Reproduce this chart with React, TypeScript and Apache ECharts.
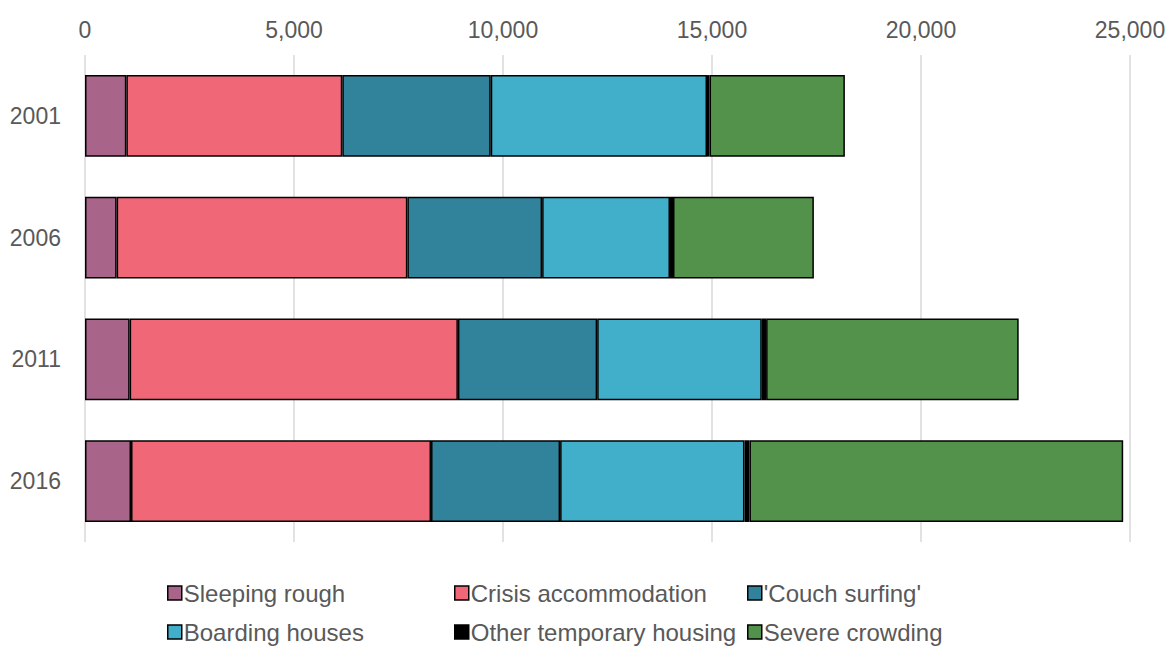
import React, { useEffect, useRef } from "react";
import * as echarts from "echarts";

const years = ["2001", "2006", "2011", "2016"];
const seriesNames = [
  "Sleeping rough",
  "Crisis accommodation",
  "'Couch surfing'",
  "Boarding houses",
  "Other temporary housing",
  "Severe crowding",
];
const sleepingRough = [989, 757, 1068, 1101];
const crisisAccommodation = [5166, 6955, 7853, 7177];
const couchSurfing = [3552, 3224, 3332, 3088];
const boardingHouses = [5174, 3059, 3938, 4411];
const otherTemporary = [60, 72, 103, 119];
const severeCrowding = [3238, 3370, 6043, 8941];
const colors = ["#A86589", "#F06878", "#31829B", "#41AFC9", "#000000", "#53924A"];
const xTicks = [0, 5000, 10000, 15000, 20000, 25000];

const allData = [
  sleepingRough,
  crisisAccommodation,
  couchSurfing,
  boardingHouses,
  otherTemporary,
  severeCrowding,
];

const legendPos = [
  { left: 167, top: 581 },
  { left: 454, top: 581 },
  { left: 747, top: 581 },
  { left: 167, top: 620 },
  { left: 454, top: 620 },
  { left: 747, top: 620 },
];

export default function App() {
  const ref = useRef<HTMLDivElement>(null);
  useEffect(() => {
    if (!ref.current) return;
    const chart = echarts.init(ref.current, null, { renderer: "svg" });
    const font = "'Liberation Sans', Arial, sans-serif";
    chart.setOption({
      animation: false,
      textStyle: { fontFamily: font },
      grid: { left: 85, right: 42, top: 55, bottom: 106 },
      xAxis: {
        type: "value",
        position: "top",
        min: xTicks[0],
        max: xTicks[xTicks.length - 1],
        interval: 5000,
        axisLine: { show: false },
        axisTick: { show: false },
        splitLine: { lineStyle: { color: "#D9D9D9", width: 1.5 } },
        axisLabel: {
          color: "#595959",
          fontSize: 23,
          fontFamily: font,
          margin: 14,
          formatter: (v: number) => v.toLocaleString("en-US"),
        },
      },
      yAxis: {
        type: "category",
        data: years,
        inverse: true,
        axisLine: { show: false },
        axisTick: { show: false },
        axisLabel: { color: "#595959", fontSize: 23, fontFamily: font, margin: 24 },
      },
      legend: seriesNames.map((n, i) => ({
        data: [n],
        left: legendPos[i].left,
        top: legendPos[i].top,
        icon: "rect",
        itemWidth: 14,
        itemHeight: 14,
        itemGap: 0,
        padding: 0,
        selectedMode: false,
        itemStyle: { borderColor: "#000000", borderWidth: 1.5 },
        textStyle: { color: "#595959", fontSize: 24, fontFamily: font, padding: [0, 0, 0, -3] },
      })),
      series: seriesNames.map((n, i) => ({
        name: n,
        type: "bar",
        stack: "total",
        data: allData[i],
        barWidth: "67%",
        itemStyle: { color: colors[i], borderColor: "#000000", borderWidth: 1.5 },
      })),
    });
    return () => chart.dispose();
  }, []);
  return (
    <div
      ref={ref}
      style={{ position: "absolute", left: 0, top: 0, width: 1172, height: 648 }}
    />
  );
}
